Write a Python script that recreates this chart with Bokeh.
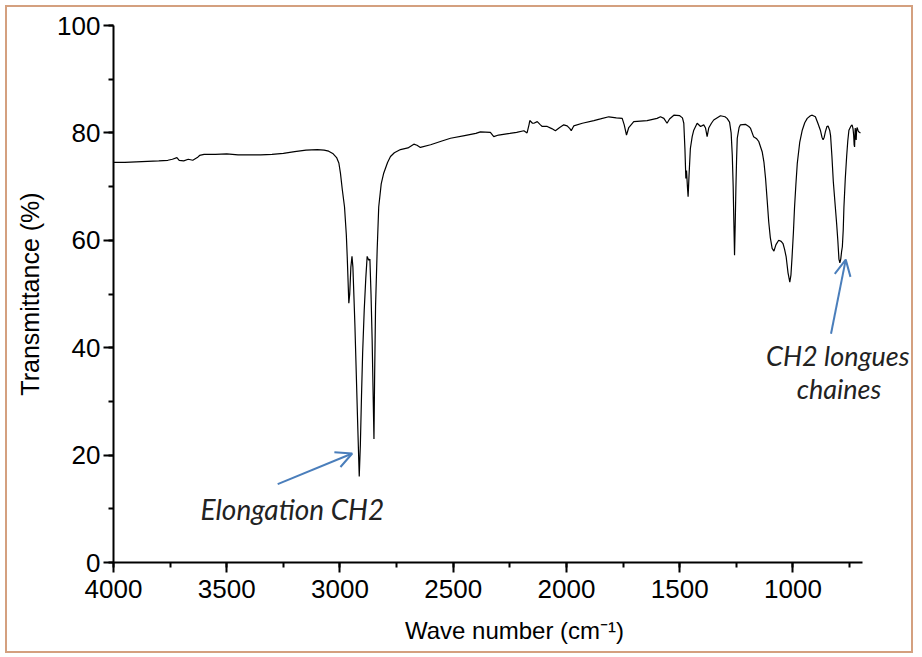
from bokeh.plotting import figure
from bokeh.models import Range1d, SingleIntervalTicker, Arrow, OpenHead, Label
from bokeh.embed import file_html
from bokeh.resources import INLINE

# ---- spectrum data (wavenumber cm-1, transmittance %) ----
wavenumber = [
    4000, 3950, 3900, 3850, 3800, 3760, 3740, 3720, 3710, 3690, 3670, 3650, 3630, 3620,
    3600, 3550, 3500, 3450, 3400, 3350, 3300, 3250, 3200, 3150, 3100, 3070, 3050, 3030,
    3015, 3005, 2998, 2990, 2980, 2972, 2968, 2964, 2961, 2957, 2952, 2947, 2943, 2938,
    2934, 2928, 2922, 2915, 2910, 2905, 2900, 2893, 2886, 2880, 2873, 2868, 2863, 2858,
    2854, 2850, 2847, 2843, 2836, 2829, 2818, 2807, 2790, 2777, 2760, 2733, 2700, 2674,
    2660, 2645, 2600, 2550, 2512, 2450, 2400, 2380, 2336, 2321, 2300, 2250, 2220, 2188,
    2174, 2165, 2162, 2150, 2144, 2129, 2115, 2107, 2085, 2065, 2049, 2030, 2012, 1997,
    1985, 1979, 1968, 1930, 1879, 1850, 1813, 1780, 1754, 1745, 1735, 1725, 1703, 1644,
    1600, 1585, 1570, 1556, 1545, 1526, 1500, 1488, 1482, 1477, 1473, 1470, 1466, 1463,
    1459, 1453, 1445, 1438, 1423, 1408, 1394, 1386, 1379, 1372, 1360, 1350, 1320, 1300,
    1291, 1280, 1273, 1268, 1264, 1261, 1258, 1255, 1252, 1249, 1246, 1238, 1232, 1210,
    1195, 1188, 1174, 1160, 1151, 1136, 1128, 1121, 1114, 1107, 1100, 1092, 1084, 1075,
    1063, 1052, 1044, 1037, 1030, 1022, 1014, 1009, 1004, 998, 993, 987, 981, 970,
    959, 948, 937, 923, 915, 901, 890, 879, 872, 867, 862, 857, 850, 845,
    838, 834, 828, 822, 813, 807, 802, 797, 793, 789, 785, 782, 778, 775,
    769, 763, 758, 753, 745, 739, 735, 732, 730, 728, 726, 725, 723, 721,
    719, 717, 713, 710, 702,
]
transmittance = [
    74.5, 74.5, 74.6, 74.7, 74.8, 74.9, 75.1, 75.4, 74.9, 74.8, 75.1, 74.9, 75.4, 75.8,
    76.0, 76.0, 76.1, 75.9, 75.9, 75.9, 76.0, 76.2, 76.5, 76.8, 76.9, 76.8, 76.6, 76.1,
    75.4, 74.4, 72.5, 69.5, 66.2, 61.0, 56.9, 52.0, 48.3, 50.0, 55.0, 57.0, 55.0, 49.0,
    44.0, 35.0, 26.0, 16.0, 22.0, 31.0, 39.0, 47.0, 53.0, 57.0, 56.3, 56.5, 50.0, 41.4,
    32.0, 23.0, 35.0, 47.6, 58.0, 66.2, 70.5, 72.5, 74.5, 75.6, 76.3, 76.9, 77.2, 77.9,
    77.7, 77.3, 77.8, 78.5, 79.0, 79.5, 79.9, 80.2, 80.1, 79.3, 79.6, 79.9, 80.1, 80.4,
    80.0, 81.6, 82.3, 81.8, 81.8, 82.1, 81.5, 81.2, 81.2, 80.8, 80.4, 81.0, 81.5, 81.3,
    80.8, 80.4, 81.3, 81.8, 82.3, 82.6, 83.0, 82.8, 82.7, 81.5, 79.6, 81.0, 82.1, 82.3,
    82.7, 83.0, 82.7, 81.8, 82.6, 83.3, 83.2, 82.8, 81.8, 77.0, 71.5, 73.0, 70.0, 68.1,
    72.0, 77.1, 79.3, 80.5, 81.8, 81.2, 81.5, 80.9, 79.3, 80.9, 81.8, 82.4, 83.2, 83.0,
    82.7, 82.0, 80.0, 75.9, 70.0, 63.4, 57.2, 63.0, 69.7, 75.0, 79.0, 81.0, 81.5, 81.6,
    81.2, 80.9, 79.3, 78.9, 78.4, 76.5, 74.5, 71.5, 67.5, 63.4, 60.5, 58.5, 58.0, 59.2,
    60.0, 59.8, 59.4, 58.3, 56.9, 54.0, 52.2, 53.5, 56.9, 61.5, 66.2, 70.5, 74.3, 78.3,
    80.5, 81.9, 82.7, 83.2, 83.3, 83.0, 81.8, 80.5, 79.2, 78.7, 79.2, 80.2, 81.2, 81.3,
    80.5, 79.5, 75.6, 71.0, 66.2, 63.0, 60.0, 56.5, 55.8, 56.5, 58.0, 58.8, 62.0, 66.2,
    71.5, 75.6, 78.5, 80.5, 81.2, 81.5, 80.8, 79.6, 77.8, 77.4, 80.0, 80.9, 79.5, 78.7,
    80.5, 81.0, 80.5, 80.2, 80.0,
]

# axis extent (cm-1) and frame extent (frame continues past the axis so the label fits)
x_axis_start = 4000
x_axis_end = 695
x_frame_end = 459

# ---- annotations ----
annot_texts = ["Elongation CH2", "CH2 longues", "chaines"]
annot_x = [3210, 802, 797]
annot_y = [10.0, 38.6, 32.4]
annot_size = ["28px", "27px", "27px"]
arrow_start_x = [3275, 832]
arrow_start_y = [14.6, 42.6]
arrow_end_x = [2946, 767]
arrow_end_y = [20.3, 56.4]

x_ticks_interval = 500
y_ticks_interval = 20

p = figure(width=908, height=648, output_backend="svg", toolbar_location=None,
           x_range=Range1d(x_axis_start, x_frame_end), y_range=Range1d(0, 100),
           min_border_left=106, min_border_top=18, min_border_right=0,
           min_border_bottom=93)
p.margin = (5, 5, 5, 5)
p.styles = {"border": "2px solid #d4a07f"}
p.outline_line_color = None
p.xgrid.visible = False
p.ygrid.visible = False
p.background_fill_color = "white"
p.border_fill_color = "white"

p.line(wavenumber, transmittance, line_color="black", line_width=1.2)

p.xaxis.ticker = SingleIntervalTicker(interval=x_ticks_interval, num_minor_ticks=2)
p.yaxis.ticker = SingleIntervalTicker(interval=y_ticks_interval, num_minor_ticks=2)
p.xaxis.bounds = (x_axis_end, x_axis_start)

for ax in (p.xaxis[0], p.yaxis[0]):
    ax.axis_line_width = 2
    ax.axis_line_color = "black"
    ax.major_tick_line_width = 2
    ax.minor_tick_line_width = 2
    ax.major_tick_in = 0
    ax.major_tick_out = 10
    ax.minor_tick_in = 0
    ax.minor_tick_out = 5
    ax.major_label_text_font = "Liberation Sans"
    ax.major_label_text_font_size = "26px"
    ax.major_label_text_color = "black"
    ax.axis_label_text_font = "Liberation Sans"
    ax.axis_label_text_font_style = "normal"
    ax.axis_label_text_color = "black"

p.xaxis.major_label_standoff = 7
p.yaxis.major_label_standoff = 3
p.xaxis.axis_label = "Wave number (cm\u207b\u00b9)"
p.xaxis.axis_label_text_font_size = "24px"
p.xaxis.axis_label_standoff = 16
p.yaxis.axis_label = "Transmittance (%)"
p.yaxis.axis_label_text_font_size = "25px"
p.yaxis.axis_label_standoff = 10

for t, x, y, s in zip(annot_texts, annot_x, annot_y, annot_size):
    p.add_layout(Label(x=x, y=y, text=t, text_align="center", text_baseline="alphabetic",
                       text_font="Lato", text_font_style="italic", text_font_size=s,
                       text_color="#222222"))

for xs, ys, xe, ye in zip(arrow_start_x, arrow_start_y, arrow_end_x, arrow_end_y):
    p.add_layout(Arrow(end=OpenHead(size=16, line_color="#4a7ebb", line_width=2),
                       x_start=xs, y_start=ys, x_end=xe, y_end=ye,
                       line_color="#4a7ebb", line_width=2))

open("out.html", "w").write(file_html(p, INLINE))
